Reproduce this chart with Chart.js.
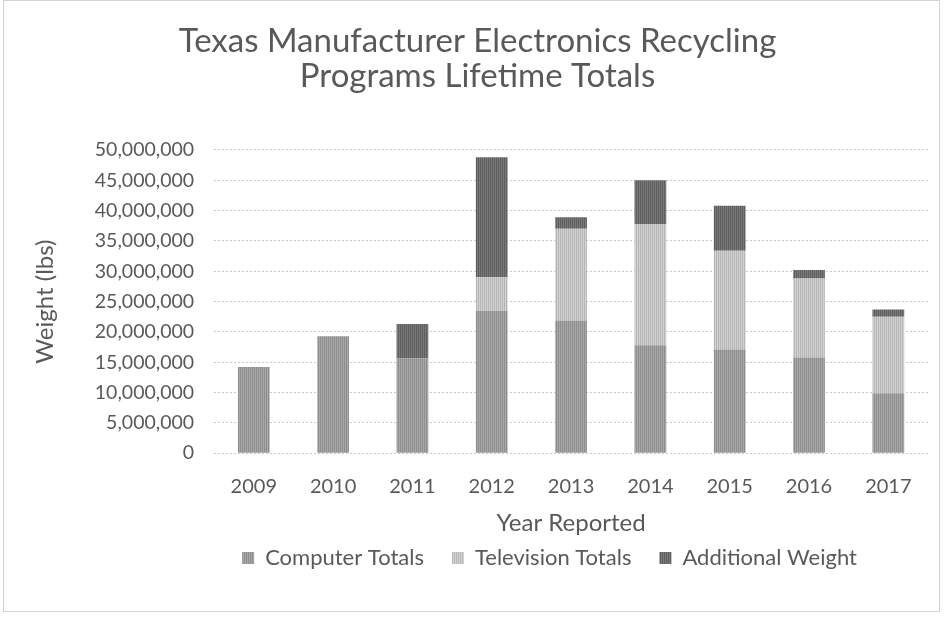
<!DOCTYPE html>
<html>
<head>
<meta charset="utf-8">
<script src="https://cdn.jsdelivr.net/npm/chart.js@4/dist/chart.umd.min.js"></script>
<style>
  html, body { margin: 0; padding: 0; background: #fff; }
  #wrap { width: 944px; height: 626px; }
</style>
</head>
<body>
<div id="wrap"><canvas id="recyclingChart" width="944" height="626"></canvas></div>
<script>
// values (lbs)
const years = ['2009', '2010', '2011', '2012', '2013', '2014', '2015', '2016', '2017'];
const computerTotals = [14200000, 19300000, 15600000, 23500000, 21900000, 17800000, 17100000, 15800000, 9900000];
const televisionTotals = [0, 0, 0, 5500000, 15100000, 20000000, 16300000, 13000000, 12600000];
const additionalWeight = [0, 0, 5700000, 19800000, 1900000, 7200000, 7400000, 1400000, 1200000];

const textGray = '#595959';
const fontName = 'Lato, "Open Sans", sans-serif';

// little vertical-stripe fills, like the scanned print
function stripes(a, b) {
    const c = document.createElement('canvas');
    c.width = 2;
    c.height = 1;
    const g = c.getContext('2d');
    g.fillStyle = a;
    g.fillRect(0, 0, 1, 1);
    g.fillStyle = b;
    g.fillRect(1, 0, 1, 1);
    return g.createPattern(c, 'repeat');
}

const framePlugin = {
    id: 'frame',
    beforeDraw(chart) {
        const c = chart.ctx;
        c.save();
        c.fillStyle = '#fff';
        c.fillRect(0, 0, chart.width, chart.height);
        c.strokeStyle = '#d4d4d4';
        c.lineWidth = 1;
        c.strokeRect(3.5, 0.5, chart.width - 8, 611);
        c.restore();
    }
};

const ctx = document.getElementById('recyclingChart').getContext('2d');
const recyclingChart = new Chart(ctx, {
    type: 'bar',
    data: {
        labels: years,
        datasets: [
            {
                label: 'Computer Totals',
                data: computerTotals,
                backgroundColor: stripes('#8e8e8e', '#a8a8a8')
            },
            {
                label: 'Television Totals',
                data: televisionTotals,
                backgroundColor: stripes('#b6b6b6', '#d2d2d2')
            },
            {
                label: 'Additional Weight',
                data: additionalWeight,
                backgroundColor: stripes('#5e5e5e', '#7a7a7a')
            }
        ]
    },
    options: {
        responsive: false,
        animation: false,
        devicePixelRatio: 1,
        categoryPercentage: 1,
        barPercentage: 0.4,
        layout: {
            padding: { left: 27, right: 16, top: 18, bottom: 47 }
        },
        plugins: {
            title: {
                display: true,
                text: ['Texas Manufacturer Electronics Recycling', 'Programs Lifetime Totals'],
                color: textGray,
                font: { family: fontName, size: 33, weight: 'normal', lineHeight: 1.06 },
                padding: { top: 6, bottom: 56 }
            },
            legend: {
                position: 'bottom',
                fullSize: false,
                align: 'start',
                labels: {
                    color: textGray,
                    font: { family: fontName, size: 22 },
                    boxWidth: 12,
                    boxHeight: 12,
                    padding: 28
                }
            },
            tooltip: { enabled: false }
        },
        scales: {
            x: {
                stacked: true,
                grid: { display: false },
                border: { display: false },
                ticks: {
                    color: textGray,
                    font: { family: fontName, size: 20 },
                    padding: 13
                },
                title: {
                    display: true,
                    text: 'Year Reported',
                    color: textGray,
                    font: { family: fontName, size: 24 },
                    padding: { top: -2, bottom: -19 }
                }
            },
            y: {
                stacked: true,
                min: 0,
                max: 50000000,
                grid: {
                    color: '#c9c9c9',
                    tickLength: 0
                },
                border: { display: false, dash: [2, 2] },
                ticks: {
                    stepSize: 5000000,
                    color: textGray,
                    font: { family: fontName, size: 19.5 },
                    padding: 20,
                    callback: function(value) {
                        return value.toLocaleString('en-US');
                    }
                },
                title: {
                    display: true,
                    text: 'Weight (lbs)',
                    color: textGray,
                    font: { family: fontName, size: 24 },
                    padding: { top: 4, bottom: 15 }
                }
            }
        }
    },
    plugins: [framePlugin]
});
</script>
</body>
</html>
